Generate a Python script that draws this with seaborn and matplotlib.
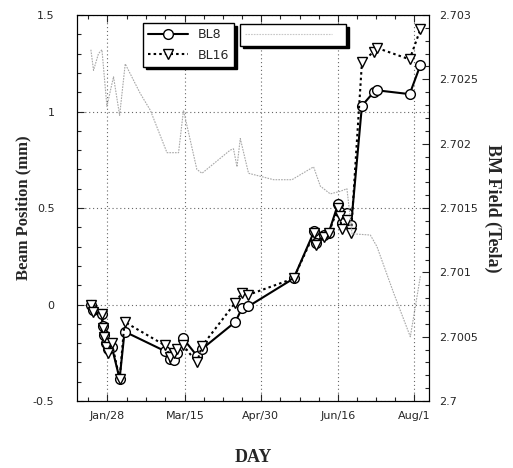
import numpy as np
import matplotlib
matplotlib.use("Agg")
import matplotlib.pyplot as plt
import seaborn as sns
from matplotlib.ticker import FixedLocator, MultipleLocator, FuncFormatter
from matplotlib.lines import Line2D

# -------------------------
# data (day of year)
# -------------------------
days = [18.3, 19.2, 24.8, 25.2, 25.8, 27.2, 28.4, 30.8, 35.5, 38.5,
        62.7, 66.2, 68.2, 70.2, 73.9, 82.3, 85.4, 105.6, 109.6, 113.4,
        140.9, 153.4, 154.6, 159.1, 162.1, 167.8, 168.8, 170.2, 173.2, 175.7,
        182.3, 189.4, 191.2, 211.2, 217.7]
bl8 = [0.0, -0.03, -0.05, -0.11, -0.16, -0.20, -0.23, -0.22, -0.385, -0.14,
       -0.24, -0.28, -0.285, -0.25, -0.175, -0.265, -0.23, -0.09, -0.02, -0.01,
       0.135, 0.38, 0.32, 0.36, 0.37, 0.52, 0.48, 0.42, 0.475, 0.41,
       1.03, 1.10, 1.11, 1.09, 1.24]
bl16 = [0.0, -0.04, -0.05, -0.12, -0.17, -0.22, -0.25, -0.20, -0.385, -0.09,
        -0.21, -0.27, -0.25, -0.23, -0.21, -0.30, -0.215, 0.01, 0.06, 0.05,
        0.135, 0.37, 0.31, 0.35, 0.37, 0.50, 0.46, 0.39, 0.44, 0.37,
        1.255, 1.31, 1.33, 1.27, 1.425]

field_days = [18.1, 19.7, 22.7, 24.8, 27.8, 31.8, 35.5, 38.9, 48.0, 54.1,
              64.2, 71.2, 74.2, 82.3, 85.4, 102.5, 104.5, 106.6, 108.6, 113.6,
              128.8, 139.9, 153.0, 157.1, 163.1, 169.2, 173.2, 176.3, 187.4, 191.4,
              201.5, 211.6, 214.6, 217.7]
field = [2.70273, 2.70257, 2.70270, 2.70273, 2.70229, 2.70252, 2.70222, 2.70262, 2.70239, 2.70226,
         2.70193, 2.70193, 2.70226, 2.70180, 2.70177, 2.70195, 2.70196, 2.70182, 2.70204, 2.70177,
         2.70172, 2.70172, 2.70182, 2.70167, 2.70161, 2.70163, 2.70165, 2.70130, 2.70129, 2.70120,
         2.70084, 2.70050, 2.70073, 2.70097]

tick_days = [28, 75, 121, 168, 214]
tick_labels = ["Jan/28", "Mar/15", "Apr/30", "Jun/16", "Aug/1"]

sns.set_style("ticks")
plt.rcParams["font.family"] = ["DejaVu Sans"]

fig = plt.figure(figsize=(5.13, 4.68), dpi=100)
ax = fig.add_axes([0.1495, 0.143, 0.687, 0.825])
ax2 = ax.twinx()

# beam positions
sns.lineplot(x=days, y=bl8, ax=ax, color="black", linewidth=1.5,
             marker="o", markersize=7, markerfacecolor="white",
             markeredgecolor="black", markeredgewidth=1.0,
             estimator=None, sort=False, label="BL8")
sns.lineplot(x=days, y=bl16, ax=ax, color="black", linewidth=1.5,
             marker="v", markersize=7, markerfacecolor="white",
             markeredgecolor="black", markeredgewidth=1.0,
             estimator=None, sort=False, label="BL16", dashes=False)
ax.lines[1].set_dashes([1.2, 1.5])
handles, labels = ax.get_legend_handles_labels()
ax.get_legend().remove()

# BM field
sns.lineplot(x=field_days, y=field, ax=ax2, color="#a8a8a8", linewidth=0.8,
             estimator=None, sort=False, legend=False)
ax2.lines[0].set_dashes([1.5, 1.0])

# axes
ax.set_xlim(9.5, 223)
ax.set_ylim(-0.5, 1.5)
ax2.set_ylim(2.7, 2.703)

ax.xaxis.set_major_locator(FixedLocator(tick_days))
minor = [16.4]
for a, b in zip(tick_days[:-1], tick_days[1:]):
    minor += list(np.linspace(a, b, 5)[1:-1])
ax.xaxis.set_minor_locator(FixedLocator(minor))
ax.set_xticklabels(tick_labels)
ax.yaxis.set_major_locator(MultipleLocator(0.5))
ax.yaxis.set_minor_locator(MultipleLocator(0.1))
ax.yaxis.set_major_formatter(FuncFormatter(lambda v, p: "%g" % round(v, 3)))
ax2.yaxis.set_major_locator(MultipleLocator(0.0005))
ax2.yaxis.set_minor_locator(MultipleLocator(0.0001))
ax2.yaxis.set_major_formatter(FuncFormatter(lambda v, p: "%g" % round(v, 5)))

ax.tick_params(axis="both", which="both", direction="in", top=True, labelsize=8)
ax.tick_params(axis="y", which="both", right=False, pad=16)
ax.tick_params(axis="x", which="both", pad=7)
ax.tick_params(which="major", length=5, width=0.8)
ax.tick_params(which="minor", length=3, width=0.8)
ax2.tick_params(axis="y", which="both", direction="in", labelsize=8, pad=7)
ax2.tick_params(which="major", length=5, width=0.8)
ax2.tick_params(which="minor", length=3, width=0.8)

ax.grid(True, which="major", linestyle=(0, (1, 2.5)), color="#666666", linewidth=0.8)
for sp in list(ax.spines.values()) + list(ax2.spines.values()):
    sp.set_linewidth(0.8)
    sp.set_color("black")

serif = ["Liberation Serif", "DejaVu Serif"]
ax.set_ylabel("Beam Position (mm)", family=serif, fontweight="bold", fontsize=12, labelpad=1)
ax2.set_ylabel("BM Field (Tesla)", family=serif, fontweight="bold", fontsize=13,
               rotation=270, labelpad=17)
ax.set_xlabel("DAY", family=serif, fontweight="bold", fontsize=13, labelpad=20)

# legends
leg1 = ax2.legend(handles, labels, loc="upper left", bbox_to_anchor=(0.188, 0.979),
                  borderaxespad=0, fancybox=False, frameon=True, edgecolor="black",
                  shadow={"color": "black", "alpha": 1}, handlelength=3.2,
                  fontsize=9, framealpha=1, labelspacing=0.6)
leg1.get_frame().set_linewidth(1.0)
ax2.add_artist(leg1)
grey = Line2D([], [], color="#c8c8c8", linewidth=0.8, dashes=[1.5, 1.0])
leg2 = ax2.legend([grey], [""], loc="upper left", bbox_to_anchor=(0.464, 0.977),
                  borderaxespad=0, fancybox=False, frameon=True, edgecolor="black",
                  shadow={"color": "black", "alpha": 1}, handlelength=7.0,
                  fontsize=9, framealpha=1, borderpad=0.35)
leg2.get_frame().set_linewidth(1.0)

fig.savefig("out.png", dpi=100)
